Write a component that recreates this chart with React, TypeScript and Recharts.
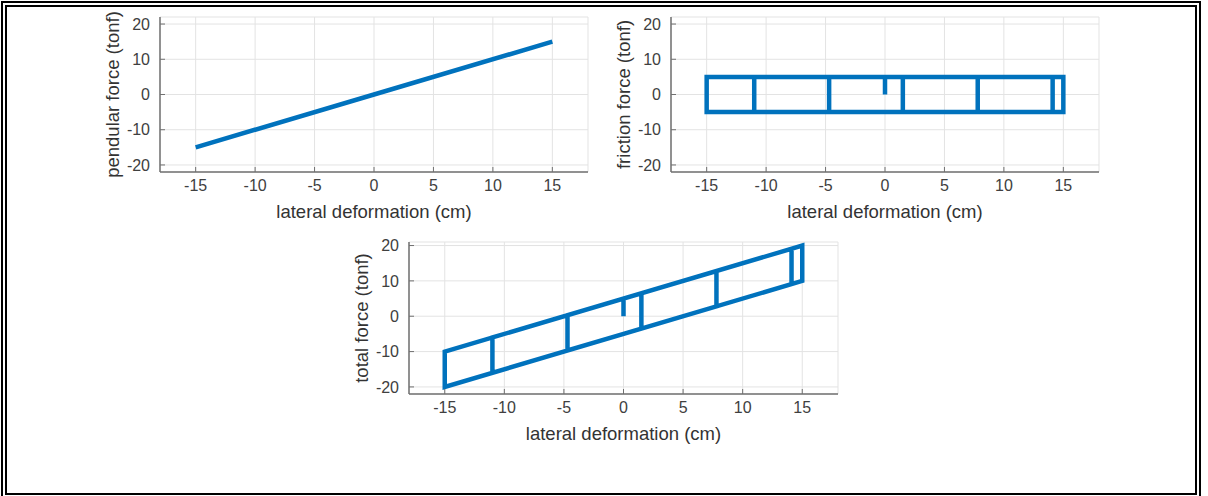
import React from "react";
import { LineChart, Line, XAxis, YAxis, CartesianGrid, Label } from "recharts";

// axis ticks shared by the three panels
const xTicks = [-15, -10, -5, 0, 5, 10, 15];
const yTicks = [-20, -10, 0, 10, 20];

// pendular force vs lateral deformation
const pendularDisp = [-15, 0, 15];
const pendularForce = [-15, 0, 15];

// friction force loop (cm, tonf)
const frictionDisp = [0, 0, 1.5, 1.5, -4.7, -4.7, 7.8, 7.8, -11, -11, 14.1, 14.1, -15, -15, 15, 15, -15];
const frictionForce = [0, 5, 5, -5, -5, 5, 5, -5, -5, 5, 5, -5, -5, 5, 5, -5, -5];

// total force loop (cm, tonf)
const totalDisp = [0, 0, 1.5, 1.5, -4.7, -4.7, 7.8, 7.8, -11, -11, 14.1, 14.1, -15, -15, 15, 15, -15];
const totalForce = [0, 5, 6.5, -3.5, -9.7, 0.3, 12.8, 2.8, -16, -6, 19.1, 9.1, -20, -10, 20, 10, -20];

const BLUE = "#0072BD";
const AXIS = "#707070";
const GRID = "#e3e3e3";
const TICK_TEXT = "#404040";
const TITLE_TEXT = "#333333";
const FONT = '"Liberation Sans", Arial, sans-serif';

const PAD_L = 100;
const PAD_T = 12;
const PAD_R = 12;
const PAD_B = 70;
const Y_AXIS_W = 60;
const X_AXIS_H = 60;

function toRows(xs: number[], ys: number[]) {
  return xs.map((x, i) => ({ x, y: ys[i] }));
}

interface PanelProps {
  left: number;
  top: number;
  plotW: number;
  plotH: number;
  yDomain: [number, number];
  xs: number[];
  ys: number[];
  yTitle: string;
}

function Panel({ left, top, plotW, plotH, yDomain, xs, ys, yTitle }: PanelProps) {
  const data = toRows(xs, ys);
  const width = PAD_L + plotW + PAD_R;
  const height = PAD_T + plotH + PAD_B;
  const tickStyle = { fill: TICK_TEXT, fontSize: 16, fontFamily: FONT };
  const axisLine = { stroke: AXIS, strokeWidth: 1.5 };

  const xTitleX = PAD_L + plotW / 2;
  const xTitleY = PAD_T + plotH + 46;
  const yTitleX = PAD_L - 41;
  const yTitleY = PAD_T + plotH / 2;

  return (
    <div style={{ position: "absolute", left: left - PAD_L, top: top - PAD_T }}>
      <LineChart
        width={width}
        height={height}
        data={data}
        margin={{ top: PAD_T, right: PAD_R, left: PAD_L - Y_AXIS_W, bottom: PAD_B - X_AXIS_H }}
      >
        <CartesianGrid xAxisId="b" yAxisId="l" stroke={GRID} strokeWidth={1} />
        <XAxis
          xAxisId="b"
          type="number"
          dataKey="x"
          domain={[-18, 18]}
          ticks={xTicks}
          interval={0}
          allowDataOverflow
          height={X_AXIS_H}
          tickSize={-5}
          tickMargin={13}
          stroke={AXIS}
          axisLine={axisLine}
          tick={tickStyle}
        >
          <Label
            content={() => (
              <text x={xTitleX} y={xTitleY} textAnchor="middle" fill={TITLE_TEXT} fontSize={18.5} fontFamily={FONT}>
                lateral deformation (cm)
              </text>
            )}
          />
        </XAxis>
        <XAxis
          xAxisId="t"
          orientation="top"
          type="number"
          dataKey="x"
          domain={[-18, 18]}
          ticks={xTicks}
          interval={0}
          allowDataOverflow
          height={0}
          tickSize={-5}
          tick={false}
          stroke={AXIS}
          axisLine={axisLine}
        />
        <YAxis
          yAxisId="l"
          type="number"
          domain={yDomain}
          ticks={yTicks}
          interval={0}
          allowDataOverflow
          width={Y_AXIS_W}
          tickSize={-5}
          tickMargin={15}
          stroke={AXIS}
          axisLine={axisLine}
          tick={tickStyle}
        >
          <Label
            content={() => (
              <text
                x={yTitleX}
                y={yTitleY}
                transform={`rotate(-90 ${yTitleX} ${yTitleY})`}
                textAnchor="middle"
                fill={TITLE_TEXT}
                fontSize={18.5}
                fontFamily={FONT}
              >
                {yTitle}
              </text>
            )}
          />
        </YAxis>
        <YAxis
          yAxisId="r"
          orientation="right"
          type="number"
          domain={yDomain}
          ticks={yTicks}
          interval={0}
          allowDataOverflow
          width={0}
          tickSize={-5}
          tick={false}
          stroke={AXIS}
          axisLine={axisLine}
        />
        <Line
          xAxisId="b"
          yAxisId="l"
          type="linear"
          dataKey="y"
          stroke={BLUE}
          strokeWidth={4.5}
          dot={false}
          activeDot={false}
          isAnimationActive={false}
        />
      </LineChart>
    </div>
  );
}

export default function App() {
  return (
    <div
      style={{
        position: "fixed",
        left: 0,
        top: 0,
        width: 1208,
        height: 496,
        background: "#fff",
        overflow: "hidden",
      }}
    >
      <div
        style={{
          position: "absolute",
          left: 1,
          top: 1,
          width: 1200,
          height: 520,
          border: "2px solid #000",
          boxSizing: "border-box",
        }}
      />
      <div
        style={{
          position: "absolute",
          left: 5,
          top: 5,
          width: 1192,
          height: 490,
          border: "2px solid #000",
          boxSizing: "border-box",
        }}
      />
      <Panel
        left={160}
        top={17}
        plotW={428}
        plotH={155}
        yDomain={[-22, 22]}
        xs={pendularDisp}
        ys={pendularForce}
        yTitle="pendular force (tonf)"
      />
      <Panel
        left={671}
        top={17}
        plotW={428}
        plotH={155}
        yDomain={[-22, 22]}
        xs={frictionDisp}
        ys={frictionForce}
        yTitle="friction force (tonf)"
      />
      <Panel
        left={409}
        top={242}
        plotW={429}
        plotH={152}
        yDomain={[-22, 21]}
        xs={totalDisp}
        ys={totalForce}
        yTitle="total force (tonf)"
      />
    </div>
  );
}
